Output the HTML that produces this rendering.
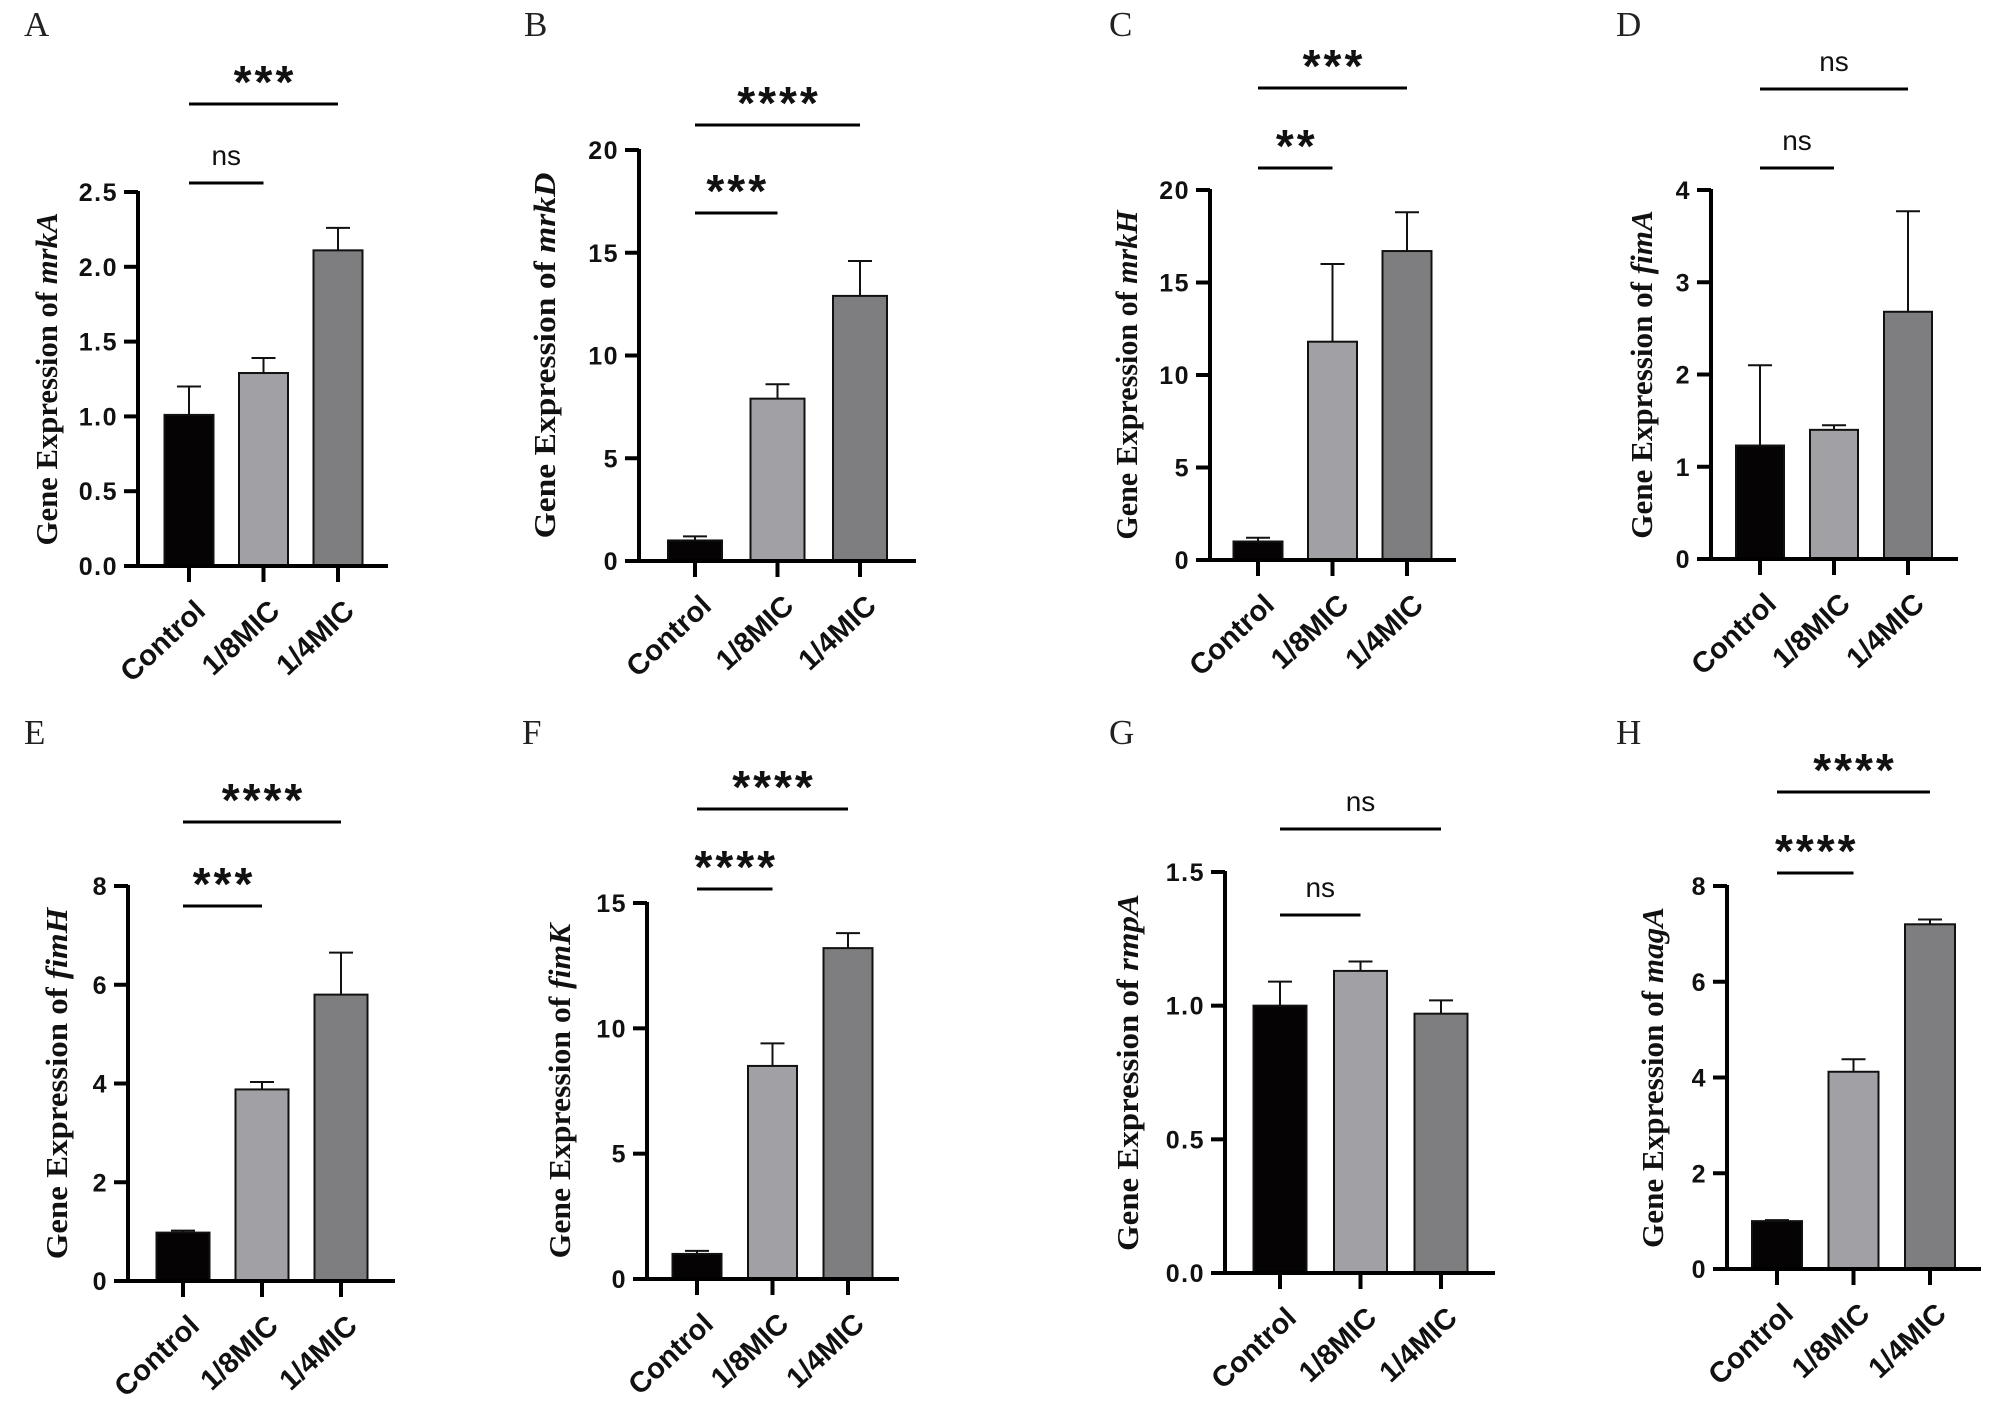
<!DOCTYPE html>
<html>
<head>
<meta charset="utf-8">
<style>
  html, body { margin: 0; padding: 0; background: #ffffff; }
  svg { display: block; }
  .tick { font-family: "Liberation Sans", Arial, sans-serif; font-weight: bold; font-size: 25px; letter-spacing: 1.5px; fill: #111; }
  .cat { font-family: "Liberation Sans", Arial, sans-serif; font-weight: bold; font-size: 29px; fill: #111; }
  .ytitle { font-family: "Liberation Serif", "Times New Roman", serif; font-weight: bold; font-size: 31px; fill: #111; }
  .panel-letter { font-family: "Liberation Serif", "Times New Roman", serif; font-size: 35px; fill: #222; }
  .stars { font-family: "Liberation Sans", Arial, sans-serif; font-weight: bold; font-size: 46px; letter-spacing: 3px; fill: #111; }
  .ns { font-family: "Liberation Sans", Arial, sans-serif; font-size: 28px; fill: #111; }
</style>
</head>
<body>
<svg id="fig" xmlns="http://www.w3.org/2000/svg" width="2000" height="1428" viewBox="0 0 2000 1428">
  <rect x="0" y="0" width="2000" height="1428" fill="#ffffff"/>
</svg>
<script>
// ---- data ----
const categories = ["Control", "1/8MIC", "1/4MIC"];
const panelLetters = ["A", "B", "C", "D", "E", "F", "G", "H"];
const geneNames = ["mrkA", "mrkD", "mrkH", "fimA", "fimH", "fimK", "rmpA", "magA"];
const meansA = [1.01, 1.29, 2.11];
const errTopA = [1.20, 1.39, 2.26];
const meansB = [1.0, 7.9, 12.9];
const errTopB = [1.2, 8.6, 14.6];
const meansC = [1.0, 11.8, 16.7];
const errTopC = [1.2, 16.0, 18.8];
const meansD = [1.23, 1.40, 2.68];
const errTopD = [2.10, 1.45, 3.77];
const meansE = [0.98, 3.88, 5.80];
const errTopE = [1.02, 4.03, 6.65];
const meansF = [1.0, 8.5, 13.2];
const errTopF = [1.12, 9.4, 13.8];
const meansG = [1.0, 1.13, 0.97];
const errTopG = [1.09, 1.165, 1.02];
const meansH = [1.0, 4.12, 7.2];
const errTopH = [1.02, 4.38, 7.3];
const ticksA = ["0.0", "0.5", "1.0", "1.5", "2.0", "2.5"];
const ticksB = ["0", "5", "10", "15", "20"];
const ticksC = ["0", "5", "10", "15", "20"];
const ticksD = ["0", "1", "2", "3", "4"];
const ticksE = ["0", "2", "4", "6", "8"];
const ticksF = ["0", "5", "10", "15"];
const ticksG = ["0.0", "0.5", "1.0", "1.5"];
const ticksH = ["0", "2", "4", "6", "8"];
const sigLowLabels = ["ns", "***", "**", "ns", "***", "****", "ns", "****"];
const sigHighLabels = ["***", "****", "***", "ns", "****", "****", "ns", "****"];

// ---- layout (pixels) ----
const layouts = [
  {ax:138, yTop:192, y0:566, xEnd:388, c0:189, step:74.5, bw:49, lx:24, ly:36, tx:47, lowY:183, highY:104},
  {ax:639, yTop:150, y0:561, xEnd:916, c0:695, step:82.5, bw:54, lx:524, ly:36, tx:545, lowY:213, highY:125},
  {ax:1210, yTop:190, y0:560, xEnd:1456, c0:1258, step:74.5, bw:49, lx:1109, ly:36, tx:1127, lowY:168, highY:88},
  {ax:1711, yTop:190, y0:559, xEnd:1958, c0:1760, step:74, bw:48, lx:1616, ly:36, tx:1642, lowY:168, highY:89},
  {ax:128, yTop:886, y0:1281, xEnd:395, c0:183, step:79, bw:53, lx:24, ly:744, tx:57, lowY:906, highY:822},
  {ax:647, yTop:903, y0:1279, xEnd:899, c0:697, step:75.5, bw:49, lx:522, ly:744, tx:560, lowY:889, highY:809},
  {ax:1225, yTop:872, y0:1273, xEnd:1495, c0:1280, step:80.5, bw:53, lx:1109, ly:744, tx:1128, lowY:915, highY:829},
  {ax:1727, yTop:886, y0:1269, xEnd:1981, c0:1777, step:76.5, bw:50, lx:1616, ly:744, tx:1653, lowY:873, highY:792}
];
const allMeans = [meansA, meansB, meansC, meansD, meansE, meansF, meansG, meansH];
const allErr = [errTopA, errTopB, errTopC, errTopD, errTopE, errTopF, errTopG, errTopH];
const allTicks = [ticksA, ticksB, ticksC, ticksD, ticksE, ticksF, ticksG, ticksH];
const barColors = ["#060304", "#a1a1a5", "#7e7e80"];
const NS = "http://www.w3.org/2000/svg";
const svg = document.getElementById("fig");

function mk(tag, attrs, parent) {
  const e = document.createElementNS(NS, tag);
  for (const k in attrs) e.setAttribute(k, attrs[k]);
  parent.appendChild(e);
  return e;
}

layouts.forEach((L, p) => {
  const g = mk("g", {}, svg);
  
  
  const ticks = allTicks[p];
  const yMax = parseFloat(ticks[ticks.length - 1]);
  const yScale = v => L.y0 - (v / yMax) * (L.y0 - L.yTop);
  const xScale = i => L.c0 + i * L.step;

  const let_ = mk("text", {x: L.lx, y: L.ly, class: "panel-letter"}, g);
  let_.textContent = panelLetters[p];
  
  

  allMeans[p].forEach((v, i) => {
    const cx = xScale(i);
    const top = yScale(v);
    const eTop = yScale(allErr[p][i]);
    const eb = mk("line", {x1: cx, x2: cx, y1: top, y2: eTop, stroke: "#111", "stroke-width": 2}, g);
    
    
    const cap = mk("line", {x1: cx - 12, x2: cx + 12, y1: eTop, y2: eTop, stroke: "#111", "stroke-width": 2}, g);
    
    
    const r = mk("rect", {x: cx - L.bw / 2, y: top, width: L.bw, height: L.y0 - top, fill: barColors[i], stroke: "#111", "stroke-width": 2}, g);
    
    
  });

  const yAxis = mk("line", {x1: L.ax, x2: L.ax, y1: L.yTop - 1, y2: L.y0 + 2, stroke: "#000", "stroke-width": 4}, g);
  
  
  const xAxis = mk("line", {x1: L.ax - 14, x2: L.xEnd, y1: L.y0, y2: L.y0, stroke: "#000", "stroke-width": 4}, g);
  
  

  ticks.forEach(t => {
    const y = yScale(parseFloat(t));
    const tk = mk("line", {x1: L.ax - 14, x2: L.ax, y1: y, y2: y, stroke: "#000", "stroke-width": 4}, g);
    
    
    const tl = mk("text", {x: L.ax - 20, y: y + 9, "text-anchor": "end", class: "tick"}, g);
    tl.textContent = t;
    
    
  });

  categories.forEach((c, i) => {
    const cx = xScale(i);
    const tk = mk("line", {x1: cx, x2: cx, y1: L.y0, y2: L.y0 + 16, stroke: "#000", "stroke-width": 4}, g);
    
    
    const ax = cx + 18, ay = L.y0 + 47;
    const cl = mk("text", {x: ax, y: ay, "text-anchor": "end", class: "cat", transform: `rotate(-43 ${ax} ${ay})`}, g);
    cl.textContent = c;
    
    
  });

  const h = L.y0 - L.yTop;
  const ty = (L.y0 + L.yTop) / 2;
  const yt = mk("text", {x: L.tx + 10, y: ty, "text-anchor": "middle", class: "ytitle",
    transform: `rotate(-90 ${L.tx + 10} ${ty})`, textLength: (0.89 * h).toFixed(1), lengthAdjust: "spacingAndGlyphs"}, g);
  yt.appendChild(document.createTextNode("Gene Expression of "));
  const it = mk("tspan", {"font-style": "italic"}, yt);
  it.textContent = geneNames[p];
  
  

  [[L.lowY, xScale(1), sigLowLabels[p], 'low'], [L.highY, xScale(2), sigHighLabels[p], 'high']].forEach(([y, xe, lab, nm]) => {
    const x1 = xScale(0);
    const ln = mk("line", {x1: x1, x2: xe, y1: y, y2: y, stroke: "#000", "stroke-width": 3}, g);
    
    
    const mid = (x1 + xe) / 2;
    let tx;
    if (lab === "ns") {
      tx = mk("text", {x: mid, y: y - 18, "text-anchor": "middle", class: "ns"}, g);
    } else {
      tx = mk("text", {x: mid + 1.5, y: y - 6, "text-anchor": "middle", class: "stars"}, g);
    }
    tx.textContent = lab;
    
    
  });
});
</script>
</body>
</html>
